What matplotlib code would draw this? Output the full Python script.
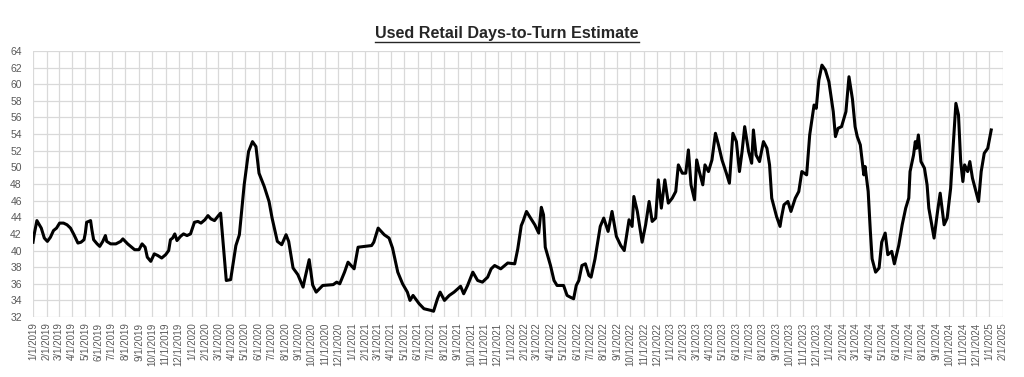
import numpy as np
import pandas as pd
import matplotlib
matplotlib.use("Agg")
import matplotlib.pyplot as plt
from matplotlib.lines import Line2D

plt.rcParams['font.family'] = ['Liberation Sans', 'DejaVu Sans']

# Weekly-ish readings (date, days-to-turn)
dates = [
    "2019-01-01", "2019-01-04", "2019-01-10", "2019-01-20", "2019-01-27", "2019-02-03",
    "2019-02-10", "2019-02-17", "2019-02-24", "2019-03-03", "2019-03-12", "2019-03-20",
    "2019-03-28", "2019-04-05", "2019-04-14", "2019-04-21", "2019-04-28", "2019-05-01",
    "2019-05-04", "2019-05-13", "2019-05-16", "2019-05-20", "2019-05-28", "2019-06-03",
    "2019-06-10", "2019-06-16", "2019-06-19", "2019-06-28", "2019-07-10", "2019-07-21",
    "2019-07-26", "2019-08-06", "2019-08-13", "2019-08-22", "2019-09-01", "2019-09-08",
    "2019-09-15", "2019-09-20", "2019-09-28", "2019-10-06", "2019-10-14", "2019-10-23",
    "2019-11-01", "2019-11-08", "2019-11-12", "2019-11-17", "2019-11-22", "2019-11-27",
    "2019-12-05", "2019-12-12", "2019-12-20", "2019-12-28",
    "2020-01-06", "2020-01-14", "2020-01-21", "2020-01-30", "2020-02-06", "2020-02-13",
    "2020-02-21", "2020-03-01", "2020-03-06", "2020-03-19", "2020-03-29", "2020-04-10",
    "2020-04-18", "2020-04-29", "2020-05-09", "2020-05-18", "2020-05-26", "2020-06-02",
    "2020-06-14", "2020-06-25", "2020-07-02", "2020-07-14", "2020-07-24", "2020-08-03",
    "2020-08-09", "2020-08-19", "2020-08-30", "2020-09-11", "2020-09-15", "2020-09-25",
    "2020-10-03", "2020-10-11", "2020-10-26", "2020-11-19", "2020-11-27", "2020-12-04",
    "2020-12-15", "2020-12-23",
    "2021-01-06", "2021-01-15", "2021-01-31", "2021-02-15", "2021-02-20", "2021-03-02",
    "2021-03-16", "2021-03-27", "2021-04-04", "2021-04-16", "2021-04-27", "2021-05-08",
    "2021-05-14", "2021-05-21", "2021-06-04", "2021-06-15", "2021-07-01", "2021-07-07",
    "2021-07-16", "2021-07-22", "2021-08-01", "2021-08-12", "2021-08-23", "2021-09-07",
    "2021-09-14", "2021-09-23", "2021-10-05", "2021-10-16", "2021-10-27", "2021-11-08",
    "2021-11-16", "2021-11-24", "2021-12-08", "2021-12-24",
    "2022-01-09", "2022-01-16", "2022-01-24", "2022-01-28", "2022-02-05", "2022-02-12",
    "2022-02-24", "2022-03-05", "2022-03-11", "2022-03-16", "2022-03-20", "2022-04-01",
    "2022-04-09", "2022-04-16", "2022-05-01", "2022-05-09", "2022-05-16", "2022-05-24",
    "2022-05-30", "2022-06-05", "2022-06-12", "2022-06-20", "2022-06-28", "2022-07-03",
    "2022-07-12", "2022-07-24", "2022-08-01", "2022-08-11", "2022-08-20", "2022-08-30",
    "2022-09-09", "2022-09-17", "2022-09-22", "2022-09-28", "2022-10-05", "2022-10-09",
    "2022-10-17", "2022-10-28", "2022-11-05", "2022-11-13", "2022-11-20", "2022-11-28",
    "2022-12-04", "2022-12-11", "2022-12-19", "2022-12-27",
    "2023-01-05", "2023-01-13", "2023-01-19", "2023-01-28", "2023-02-05", "2023-02-11",
    "2023-02-17", "2023-02-25", "2023-03-02", "2023-03-08", "2023-03-16", "2023-03-21",
    "2023-03-29", "2023-04-06", "2023-04-14", "2023-04-21", "2023-04-29", "2023-05-09",
    "2023-05-16", "2023-05-24", "2023-06-01", "2023-06-08", "2023-06-14", "2023-06-20",
    "2023-06-29", "2023-07-06", "2023-07-10", "2023-07-16", "2023-07-24", "2023-08-02",
    "2023-08-10", "2023-08-16", "2023-08-21", "2023-09-01", "2023-09-09", "2023-09-12",
    "2023-09-18", "2023-09-27", "2023-10-04", "2023-10-14", "2023-10-22", "2023-10-29",
    "2023-11-09", "2023-11-16", "2023-11-26", "2023-12-01", "2023-12-07", "2023-12-14",
    "2023-12-22", "2023-12-30",
    "2024-01-09", "2024-01-14", "2024-01-20", "2024-01-28", "2024-02-07", "2024-02-14",
    "2024-02-22", "2024-02-28", "2024-03-04", "2024-03-11", "2024-03-19", "2024-03-22",
    "2024-03-29", "2024-04-03", "2024-04-07", "2024-04-15", "2024-04-23", "2024-04-29",
    "2024-05-07", "2024-05-13", "2024-05-22", "2024-05-28", "2024-06-07", "2024-06-15",
    "2024-06-23", "2024-06-30", "2024-07-03", "2024-07-11", "2024-07-15", "2024-07-18",
    "2024-07-22", "2024-07-28", "2024-08-05", "2024-08-11", "2024-08-15", "2024-08-27",
    "2024-09-04", "2024-09-10", "2024-09-19", "2024-09-26", "2024-10-04", "2024-10-09",
    "2024-10-16", "2024-10-22", "2024-10-27", "2024-11-01", "2024-11-05", "2024-11-12",
    "2024-11-17", "2024-11-23", "2024-12-01", "2024-12-07", "2024-12-13", "2024-12-20",
    "2024-12-28", "2025-01-05",
]
days_to_turn = [
    41.0, 42.0, 43.6, 42.7, 41.5, 41.1,
    41.6, 42.4, 42.7, 43.3, 43.3, 43.1,
    42.7, 41.9, 40.9, 41.0, 41.3, 42.1,
    43.4, 43.6, 42.5, 41.3, 40.8, 40.5,
    41.1, 41.8, 41.1, 40.8, 40.8, 41.1,
    41.4, 40.8, 40.5, 40.1, 40.1, 40.8,
    40.4, 39.2, 38.7, 39.6, 39.4, 39.1,
    39.5, 40.0, 41.3, 41.5, 42.0, 41.2,
    41.7, 42.0, 41.8, 42.0,
    43.4, 43.5, 43.3, 43.7, 44.2, 43.8,
    43.6, 44.2, 44.5, 36.4, 36.5, 40.6,
    41.9, 47.9, 51.9, 53.1, 52.5, 49.3,
    47.7, 45.9, 43.9, 41.1, 40.7, 41.9,
    41.1, 37.9, 37.1, 35.6, 36.6, 38.9,
    35.85, 35.0, 35.8, 35.9, 36.2, 36.0,
    37.4, 38.6,
    37.8, 40.4, 40.5, 40.6, 41.0, 42.7,
    41.9, 41.5, 40.3, 37.4, 36.0, 35.0,
    34.0, 34.6, 33.6, 33.0, 32.8, 32.7,
    34.2, 35.0, 34.0, 34.6, 35.0, 35.7,
    34.8, 35.8, 37.4, 36.4, 36.2, 36.8,
    37.8, 38.2, 37.8, 38.5,
    38.4, 40.2, 43.0, 43.5, 44.7, 44.1,
    43.1, 42.1, 45.2, 44.3, 40.4, 38.2,
    36.4, 35.8, 35.8, 34.6, 34.4, 34.2,
    35.8, 36.4, 38.2, 38.4, 37.0, 36.8,
    39.0, 42.9, 43.9, 42.3, 44.7, 41.7,
    40.6, 40.0, 41.7, 43.7, 42.9, 46.5,
    44.7, 41.0, 43.1, 45.9, 43.5, 43.9,
    48.5, 45.1, 48.5, 45.7,
    46.3, 47.1, 50.3, 49.3, 49.3, 52.1,
    47.9, 46.1, 50.9, 49.5, 47.9, 50.3,
    49.5, 50.9, 54.1, 52.7, 50.9, 49.3,
    48.1, 54.1, 53.1, 49.5, 51.9, 54.9,
    51.9, 50.5, 54.5, 51.5, 50.7, 53.1,
    52.3, 50.3, 46.3, 44.1, 42.9, 43.9,
    45.5, 45.9, 44.7, 46.3, 47.1, 49.5,
    49.1, 53.9, 57.5, 57.1, 60.5, 62.3,
    61.7, 60.3,
    56.7, 53.7, 54.7, 54.9, 56.7, 60.9,
    58.2, 54.9, 53.7, 52.7, 49.1, 50.1,
    47.1, 42.3, 39.0, 37.4, 37.9, 41.0,
    42.1, 39.5, 39.9, 38.4, 40.6, 43.1,
    45.1, 46.3, 49.5, 51.5, 53.1, 52.3,
    53.9, 50.7, 49.9, 47.9, 45.1, 41.5,
    44.7, 46.9, 43.1, 43.9, 47.5, 51.9,
    57.7, 56.3, 50.7, 48.3, 50.3, 49.5,
    50.7, 48.7, 47.1, 45.9, 49.5, 51.7,
    52.3, 54.5,
]

x = pd.to_datetime(dates)
month_ticks = pd.date_range("2019-01-01", "2025-02-01", freq="MS")
month_labels = [f"{d.month}/1/{d.year}" for d in month_ticks]
y_ticks = np.arange(32, 65, 2)

fig = plt.figure(figsize=(10.24, 3.77), dpi=100)
ax = fig.add_axes([0.0322, 0.159, 0.9473, 0.7058])

ax.plot(x, days_to_turn, color="black", linewidth=2.2, zorder=3)

ax.set_xlim(month_ticks[0], month_ticks[-1])
ax.set_ylim(32, 64)
ax.set_xticks(month_ticks)
ax.set_xticklabels(month_labels, rotation=90, fontsize=7, color="#595959")
ax.set_yticks(y_ticks)
ax.set_yticklabels([str(v) for v in y_ticks], fontsize=7.5, color="#595959")
ax.tick_params(axis="both", length=0)
ax.tick_params(axis="x", pad=4)
ax.tick_params(axis="y", pad=8)

ax.grid(True, color="#d9d9d9", linewidth=0.9)
ax.set_axisbelow(True)
for side in ax.spines.values():
    side.set_visible(False)

# underlined title
title = fig.text(0.495, 0.900, "Used Retail Days-to-Turn Estimate",
                 ha="center", va="baseline", fontsize=11.6, fontweight="bold",
                 color="#262626")
fig.canvas.draw()
bb = title.get_window_extent().transformed(fig.transFigure.inverted())
fig.add_artist(Line2D([bb.x0, bb.x1], [0.889, 0.889], color="#262626",
                      linewidth=1.0, transform=fig.transFigure))

fig.savefig("out.png", dpi=100)
